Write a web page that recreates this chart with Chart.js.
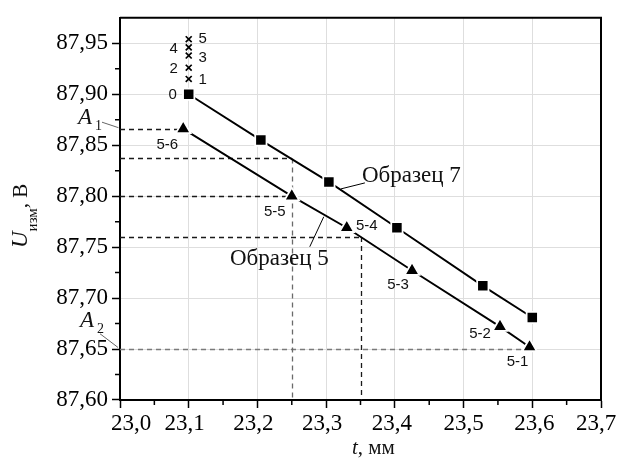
<!DOCTYPE html>
<html lang="ru">
<head>
    <meta charset="UTF-8">
    <title>U изм от t</title>
    <script src="https://cdn.jsdelivr.net/npm/chart.js"></script>
    <style>
        html, body { margin: 0; padding: 0; background: #fff; }
        .wrap-chart { width: 617px; height: 464px; }
    </style>
</head>
<body>
<div class="wrap-chart">
    <canvas id="myChart"></canvas>
</div>
<script>
    // Образец 7 (квадраты)
    const t7 = [23.100, 23.205, 23.304, 23.403, 23.528, 23.600];
    const u7 = [87.900, 87.855, 87.814, 87.769, 87.712, 87.681];

    // Образец 5 (треугольники)
    const t5 = [23.092, 23.250, 23.330, 23.425, 23.553, 23.596];
    const u5 = [87.866, 87.800, 87.769, 87.727, 87.672, 87.652];
    const names5 = ['5-6', '5-5', '5-4', '5-3', '5-2', '5-1'];

    // повторные замеры в точке 0
    const tRep = [23.100, 23.100, 23.100, 23.100, 23.100];
    const uRep = [87.915, 87.926, 87.938, 87.946, 87.954];
    const namesRep = ['1', '2', '3', '4', '5'];

    // оси
    const xMin = 23.0, xMax = 23.7, xStep = 0.1;
    const yMin = 87.60, yMax = 87.975, yStep = 0.05;

    // пунктиры: горизонтальные (уровень -> до t) и вертикальные (t -> от уровня вниз)
    const guideU = [87.866, 87.837, 87.800, 87.760, 87.650];
    const guideT = [23.092, 23.250, 23.250, 23.350, 23.596];
    const vertT = [23.25, 23.35];
    const vertU = [87.837, 87.760];

    const SERIF = '"Liberation Serif", "Times New Roman", serif';
    const SANS = '"Liberation Sans", Arial, sans-serif';

    const toPts = (xs, ys) => xs.map((v, i) => ({x: v, y: ys[i]}));
    const fmtX = v => v.toFixed(1).replace('.', ',');
    const fmtY = v => v.toFixed(2).replace('.', ',');

    const extras = {
        id: 'extras',
        beforeDatasetsDraw(chart) {
            const {ctx, scales: {x, y}} = chart;
            ctx.save();
            ctx.lineWidth = 1.3;
            ctx.setLineDash([5, 4]);
            guideU.forEach((u, i) => {
                ctx.strokeStyle = i === 4 ? '#7a7a7a' : '#1a1a1a';
                const py = Math.round(y.getPixelForValue(u)) + 0.5;
                ctx.beginPath();
                ctx.moveTo(x.left, py);
                ctx.lineTo(x.getPixelForValue(guideT[i]), py);
                ctx.stroke();
            });
            vertT.forEach((t, i) => {
                ctx.strokeStyle = i === 0 ? '#6a6a6a' : '#1a1a1a';
                const px = Math.round(x.getPixelForValue(t)) + 0.5;
                ctx.beginPath();
                ctx.moveTo(px, y.getPixelForValue(vertU[i]));
                ctx.lineTo(px, y.bottom);
                ctx.stroke();
            });
            ctx.restore();
        },
        afterDraw(chart) {
            const {ctx, chartArea: a, scales: {x, y}} = chart;
            ctx.save();

            // рамка сверху и справа
            ctx.strokeStyle = '#000';
            ctx.lineWidth = 2;
            ctx.beginPath();
            ctx.moveTo(a.left, a.top);
            ctx.lineTo(a.right, a.top);
            ctx.lineTo(a.right, a.bottom);
            ctx.stroke();

            // малые деления
            ctx.lineWidth = 1.5;
            ctx.beginPath();
            for (let v = xMin + xStep / 2; v < xMax; v += xStep) {
                const px = x.getPixelForValue(v);
                ctx.moveTo(px, a.bottom);
                ctx.lineTo(px, a.bottom + 5);
            }
            for (let v = yMin + yStep / 2; v < yMax - 0.01; v += yStep) {
                const py = y.getPixelForValue(v);
                ctx.moveTo(a.left, py);
                ctx.lineTo(a.left - 5, py);
            }
            ctx.stroke();

            // подписи оси t
            ctx.fillStyle = '#000';
            ctx.font = '23px ' + SERIF;
            ctx.textAlign = 'center';
            ctx.textBaseline = 'alphabetic';
            const nudge = [11, -4, -4, -4, -3, 0, 2, -5];
            x.ticks.forEach((tk, i) => {
                ctx.fillText(fmtX(tk.value), x.getPixelForValue(tk.value) + (nudge[i] || 0), a.bottom + 30);
            });

            // подписи точек образца 5
            ctx.font = '15px ' + SANS;
            ctx.fillStyle = '#111';
            ctx.textBaseline = 'middle';
            const off5 = [[-16, 16], [-17, 16], [20, -2], [-14, 14], [-20, 7], [-12, 15]];
            names5.forEach((s, i) => {
                ctx.fillText(s, x.getPixelForValue(t5[i]) + off5[i][0], y.getPixelForValue(u5[i]) + off5[i][1]);
            });
            const offRep = [[14, 1], [-15, 1], [14, 2], [-15, 2], [14, 0]];
            namesRep.forEach((s, i) => {
                ctx.fillText(s, x.getPixelForValue(tRep[i]) + offRep[i][0], y.getPixelForValue(uRep[i]) + offRep[i][1]);
            });
            ctx.fillText('0', x.getPixelForValue(t7[0]) - 16, y.getPixelForValue(u7[0]) + 1);

            // названия образцов с выносками
            ctx.strokeStyle = '#000';
            ctx.lineWidth = 1;
            ctx.textBaseline = 'alphabetic';
            ctx.font = '23px ' + SERIF;
            let px = x.getPixelForValue(t7[2]), py = y.getPixelForValue(u7[2]);
            ctx.beginPath();
            ctx.moveTo(px + 12, py + 7);
            ctx.lineTo(px + 36, py + 1);
            ctx.stroke();
            ctx.textAlign = 'left';
            ctx.fillText('Образец 7', px + 33, py);

            px = x.getPixelForValue(t5[2]); py = y.getPixelForValue(u5[2]);
            ctx.beginPath();
            ctx.moveTo(px - 23, py - 11);
            ctx.lineTo(px - 37, py + 19);
            ctx.stroke();
            ctx.textAlign = 'right';
            ctx.fillText('Образец 5', px - 18, py + 37);

            // A1, A2 у оси
            const aMarks = [
                {u: guideU[0], sub: '1', dx: -42, dy: -4.7, l: [-18, -6.7, -1.5, -1.2]},
                {u: guideU[4], sub: '2', dx: -40, dy: -21.6, l: [-20, -15.3, -2, -1.6]}
            ];
            ctx.textAlign = 'left';
            aMarks.forEach(m => {
                const yy = y.getPixelForValue(m.u);
                ctx.strokeStyle = '#666';
                ctx.beginPath();
                ctx.moveTo(a.left + m.l[0], yy + m.l[1]);
                ctx.lineTo(a.left + m.l[2], yy + m.l[3]);
                ctx.stroke();
                ctx.font = 'italic 23px ' + SERIF;
                ctx.fillText('A', a.left + m.dx, yy + m.dy);
                ctx.font = '14px ' + SERIF;
                ctx.fillText(m.sub, a.left + m.dx + 17, yy + m.dy + 6);
            });

            // заголовок оси t
            ctx.font = 'italic 21px ' + SERIF;
            ctx.fillText('t', 352, 454);
            let w = ctx.measureText('t').width;
            ctx.font = '21px ' + SERIF;
            ctx.fillText(', мм', 352 + w, 454);

            // заголовок оси U (повёрнут)
            ctx.translate(27, 248);
            ctx.rotate(-Math.PI / 2);
            ctx.font = 'italic 23px ' + SERIF;
            ctx.fillText('U', 0, 0);
            w = ctx.measureText('U').width;
            ctx.font = '15px ' + SERIF;
            ctx.fillText('изм', w, 10);
            w += ctx.measureText('изм').width;
            ctx.font = '21px ' + SERIF;
            ctx.fillText(', В', w, 0);

            ctx.restore();
        }
    };

    const ctx = document.getElementById('myChart');
    const chart = new Chart(ctx, {
        type: 'scatter',
        data: {
            datasets: [
                {
                    label: 'Образец 7',
                    data: toPts(t7, u7),
                    showLine: true,
                    borderColor: '#000',
                    borderWidth: 1.9,
                    pointStyle: 'rect',
                    pointRadius: 8,
                    pointBackgroundColor: '#000',
                    pointBorderColor: '#fff',
                    pointBorderWidth: 1.8
                },
                {
                    label: 'Образец 5',
                    data: toPts(t5, u5),
                    showLine: true,
                    borderColor: '#000',
                    borderWidth: 1.9,
                    pointStyle: 'triangle',
                    pointRadius: 8.5,
                    pointBackgroundColor: '#000',
                    pointBorderColor: '#fff',
                    pointBorderWidth: 1.8
                },
                {
                    label: 'Повторы',
                    data: toPts(tRep, uRep),
                    showLine: false,
                    pointStyle: 'crossRot',
                    pointRadius: 4.2,
                    borderColor: '#000',
                    pointBorderColor: '#000',
                    pointBorderWidth: 1.7
                }
            ]
        },
        options: {
            responsive: true,
            maintainAspectRatio: false,
            animation: false,
            layout: {padding: {left: 0, right: 16, top: 15, bottom: 0}},
            plugins: {
                legend: {display: false},
                tooltip: {enabled: false}
            },
            scales: {
                x: {
                    type: 'linear',
                    min: xMin,
                    max: xMax,
                    ticks: {stepSize: xStep, display: false, includeBounds: false},
                    grid: {color: '#dedede', tickColor: '#000', tickLength: 8, tickWidth: 1.5},
                    border: {color: '#000', width: 2},
                    afterFit: s => { s.height = 64; }
                },
                y: {
                    type: 'linear',
                    min: yMin,
                    max: yMax,
                    ticks: {
                        stepSize: yStep,
                        includeBounds: false,
                        padding: 4,
                        color: '#000',
                        font: {family: SERIF, size: 23},
                        callback: v => fmtY(v)
                    },
                    grid: {color: '#dedede', tickColor: '#000', tickLength: 8, tickWidth: 1.5},
                    border: {color: '#000', width: 2},
                    afterFit: s => { s.width = 120; }
                }
            }
        },
        plugins: [extras]
    });
</script>
</body>
</html>
